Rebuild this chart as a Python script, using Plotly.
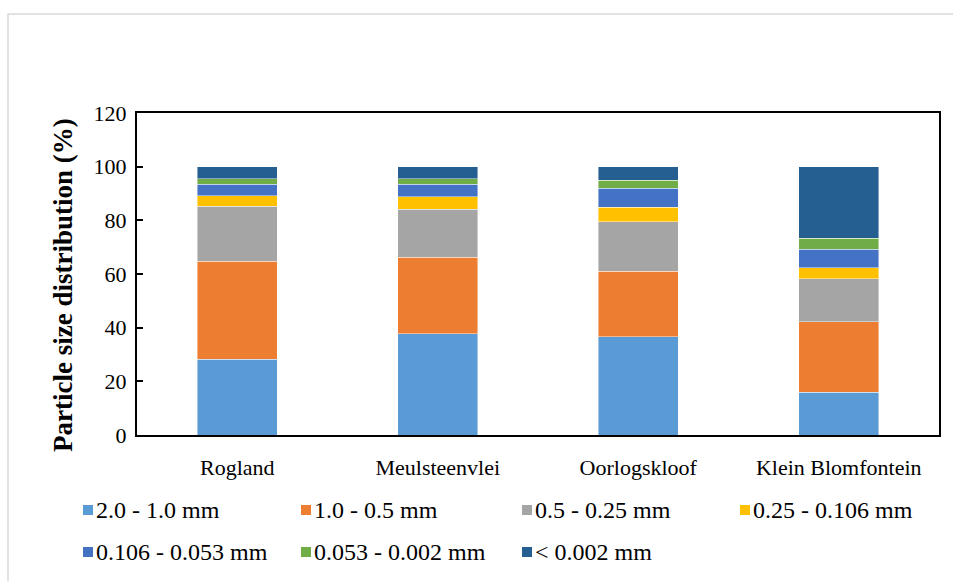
import plotly.graph_objects as go

# Sampling sites (x categories)
sites = ["Rogland", "Meulsteenvlei", "Oorlogskloof", "Klein Blomfontein"]

# Particle size fractions (%), stacked from coarsest to finest
frac_2_1 = [28.2, 37.7, 36.6, 15.9]
frac_1_05 = [36.6, 28.6, 24.5, 26.4]
frac_05_025 = [20.4, 17.8, 18.3, 16.0]
frac_025_0106 = [4.0, 4.6, 5.5, 4.1]
frac_0106_0053 = [4.2, 4.7, 7.0, 6.9]
frac_0053_0002 = [2.1, 2.1, 3.0, 4.1]
frac_lt_0002 = [4.5, 4.5, 5.1, 26.6]

series_names = ["2.0 - 1.0 mm", "1.0 - 0.5 mm", "0.5 - 0.25 mm", "0.25 - 0.106 mm",
                "0.106 - 0.053 mm", "0.053 - 0.002 mm", "< 0.002 mm"]
series_values = [frac_2_1, frac_1_05, frac_05_025, frac_025_0106,
                 frac_0106_0053, frac_0053_0002, frac_lt_0002]
series_colors = ["#5B9BD5", "#ED7D31", "#A5A5A5", "#FFC000",
                 "#4472C4", "#70AD47", "#255E91"]

y_ticks = [0, 20, 40, 60, 80, 100, 120]
y_title = "Particle size distribution (%)"

FONT = "Liberation Serif, Times New Roman, serif"
W, H = 953, 581
L, R, T, B = 137, 14, 113, 146
PW, PH = W - L - R, H - T - B


def px_x(x):
    return (x - L) / PW


def px_y(y):
    return (H - B - y) / PH


fig = go.Figure()
for name, vals, col in zip(series_names, series_values, series_colors):
    fig.add_trace(go.Bar(
        x=sites, y=vals, name=name,
        marker=dict(color=col, line=dict(color="rgba(255,255,255,0.55)", width=0.8)),
        showlegend=False,
    ))

# Legend: two rows of swatch + label
legend_cols = [83, 301, 522, 740]
legend_rows = [510, 552]
shapes = []
annotations = []
for i, (name, col) in enumerate(zip(series_names, series_colors)):
    cx = legend_cols[i % 4]
    cy = legend_rows[i // 4]
    shapes.append(dict(type="rect", xref="paper", yref="paper",
                       x0=px_x(cx), x1=px_x(cx + 10),
                       y0=px_y(cy + 5), y1=px_y(cy - 5),
                       fillcolor=col, line=dict(width=0)))
    annotations.append(dict(xref="paper", yref="paper", x=px_x(cx + 11), y=px_y(cy),
                            text=name, showarrow=False, xanchor="left", yanchor="middle",
                            font=dict(family=FONT, size=24, color="#000000")))

# Vertical axis title
annotations.append(dict(xref="paper", yref="paper", x=px_x(63), y=px_y(285),
                        text="<b>" + y_title + "</b>", textangle=-90, showarrow=False,
                        xanchor="center", yanchor="middle",
                        font=dict(family=FONT, size=27, color="#000000")))

# Chart frame
shapes.append(dict(type="rect", xref="paper", yref="paper",
                   x0=px_x(8), x1=px_x(970), y0=px_y(600), y1=px_y(14),
                   line=dict(color="#D9D9D9", width=1.5), fillcolor="rgba(0,0,0,0)",
                   layer="below"))

fig.update_layout(
    width=W, height=H,
    margin=dict(l=L, r=R, t=T, b=B),
    barmode="stack",
    bargap=0.6,
    plot_bgcolor="white",
    paper_bgcolor="white",
    font=dict(family=FONT, size=22, color="#000000"),
    shapes=shapes,
    annotations=annotations,
    xaxis=dict(
        showline=True, mirror=True, linecolor="#000000", linewidth=2,
        ticks="", showgrid=False, tickfont=dict(size=22),
        ticklabelstandoff=12,
    ),
    yaxis=dict(
        range=[0, 120], tickvals=y_ticks,
        showline=True, mirror=True, linecolor="#000000", linewidth=2,
        ticks="inside", ticklen=6, tickwidth=1.5, tickcolor="#000000",
        showgrid=False, zeroline=False, tickfont=dict(size=22),
        ticklabelstandoff=4,
    ),
)

fig.write_html("out.html")
